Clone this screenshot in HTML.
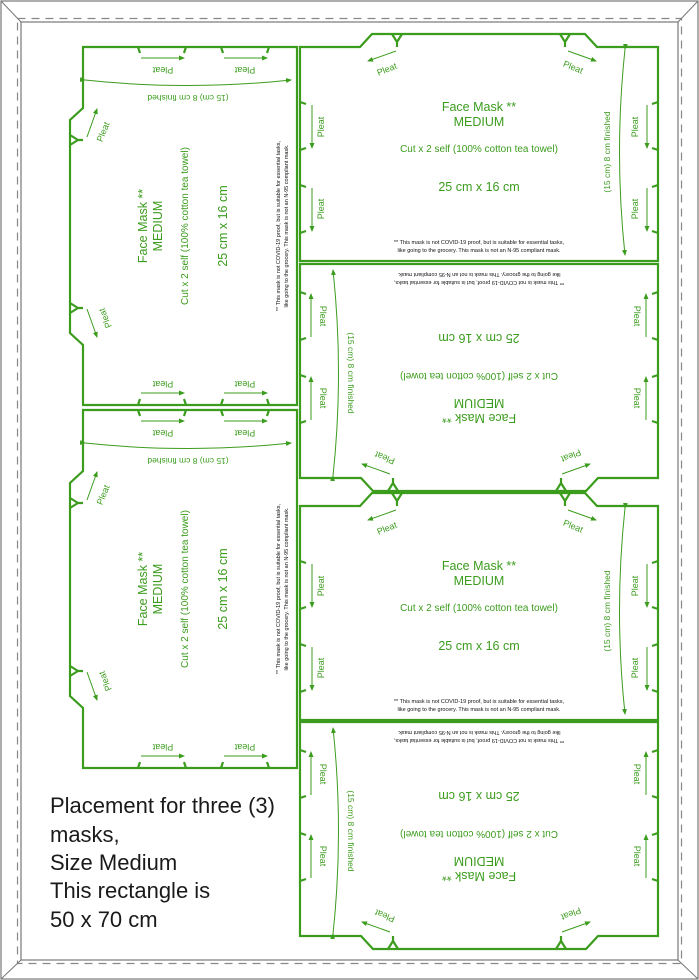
<!DOCTYPE html>
<html><head><meta charset="utf-8"><style>
html,body{margin:0;padding:0;background:#fff;}
svg{display:block;}
.g{fill:none;stroke:#3c9c1e;stroke-width:2.2;}
.t{stroke:#3c9c1e;stroke-width:1;fill:none;}
.tx{fill:#3c9c1e;font-family:"Liberation Sans",sans-serif;text-anchor:middle;}
.fn{fill:#111;font-family:"Liberation Sans",sans-serif;text-anchor:middle;font-size:5.5px;}
</style></head><body>
<svg width="699" height="980" viewBox="0 0 699 980" xmlns="http://www.w3.org/2000/svg">
<defs>
<marker id="ah" markerWidth="6" markerHeight="6" refX="5" refY="3" orient="auto" markerUnits="userSpaceOnUse"><path d="M0,0.5 L6,3 L0,5.5 Z" fill="#3c9c1e"/></marker>
<g id="mask">
  <path class="g" d="M0,0 L60,0 L72,-13 L285,-13 L297,0 L358,0 L358,214 L0,214 Z"/>
  <path class="g" d="M92,-13 L97,-5 L97,0 M102,-13 L97,-5 M260,-13 L265,-5 L265,0 M270,-13 L265,-5" stroke-width="1.6"/>
  <path class="g" stroke-width="1.6" d="M0,55 L6,57 M0,103 L6,101 M0,138 L6,140 M0,186 L6,184 M358,55 L352,57 M358,103 L352,101 M358,138 L352,140 M358,186 L352,184"/>
  <line class="t" x1="12" y1="58" x2="12" y2="101" marker-end="url(#ah)"/>
  <line class="t" x1="12" y1="141" x2="12" y2="184" marker-end="url(#ah)"/>
  <line class="t" x1="347" y1="58" x2="347" y2="101" marker-end="url(#ah)"/>
  <line class="t" x1="347" y1="141" x2="347" y2="184" marker-end="url(#ah)"/>
  <text class="tx" font-size="9" transform="translate(24,80) rotate(-90)">Pleat</text>
  <text class="tx" font-size="9" transform="translate(24,162) rotate(-90)">Pleat</text>
  <text class="tx" font-size="9" transform="translate(338,80) rotate(-90)">Pleat</text>
  <text class="tx" font-size="9" transform="translate(338,162) rotate(-90)">Pleat</text>
  <line class="t" x1="96" y1="4" x2="68" y2="14" marker-end="url(#ah)"/>
  <line class="t" x1="268" y1="4" x2="296" y2="14" marker-end="url(#ah)"/>
  <text class="tx" font-size="9" transform="translate(88,25) rotate(-22)">Pleat</text>
  <text class="tx" font-size="9" transform="translate(272,23) rotate(22)">Pleat</text>
  <path class="t" d="M325,2 Q314,105 325,208" marker-start="url(#ah)" marker-end="url(#ah)"/>
  <text class="tx" font-size="8.5" transform="translate(310,105) rotate(-90)">(15 cm)  8 cm finished</text>
  <text class="tx" x="179" y="64" font-size="12.5">Face Mask **</text>
  <text class="tx" x="179" y="79" font-size="12.5">MEDIUM</text>
  <text class="tx" x="179" y="105" font-size="10">Cut x 2 self (100% cotton tea towel)</text>
  <text class="tx" x="179" y="144" font-size="12.5">25 cm x 16 cm</text>
  <text class="fn" x="179" y="197">** This mask is not COVID-19 proof, but is suitable for essential tasks,</text>
  <text class="fn" x="179" y="205">like going to the grocery. This mask is not an N-95 compliant mask.</text>
</g>
</defs>
<rect x="1" y="1" width="697" height="978" fill="none" stroke="#777" stroke-width="1.2"/>
<rect x="21" y="22" width="657" height="938" fill="none" stroke="#777" stroke-width="1.2"/>
<rect x="17.5" y="18.5" width="664" height="945" fill="none" stroke="#888" stroke-width="1.2" stroke-dasharray="8,6"/>
<path d="M1,1 L21,22 M698,1 L678,22 M1,979 L21,960 M698,979 L678,960" stroke="#777" stroke-width="1"/>

<use href="#mask" transform="translate(300,47)"/>
<use href="#mask" transform="translate(479,370) rotate(180) translate(-179,-108)"/>
<use href="#mask" transform="translate(300,506)"/>
<use href="#mask" transform="translate(479,829) rotate(180) translate(-179,-107)"/>
<use href="#mask" transform="translate(191,226) rotate(-90) translate(-179,-108)"/>
<use href="#mask" transform="translate(190,589) rotate(-90) translate(-179,-107)"/>

<g font-family="Liberation Sans, sans-serif" font-size="22" fill="#1a1a1a">
<text x="50" y="813">Placement for three (3)</text>
<text x="50" y="842">masks,</text>
<text x="50" y="870">Size Medium</text>
<text x="50" y="898">This rectangle is</text>
<text x="50" y="927">50 x 70 cm</text>
</g>
</svg>
</body></html>
